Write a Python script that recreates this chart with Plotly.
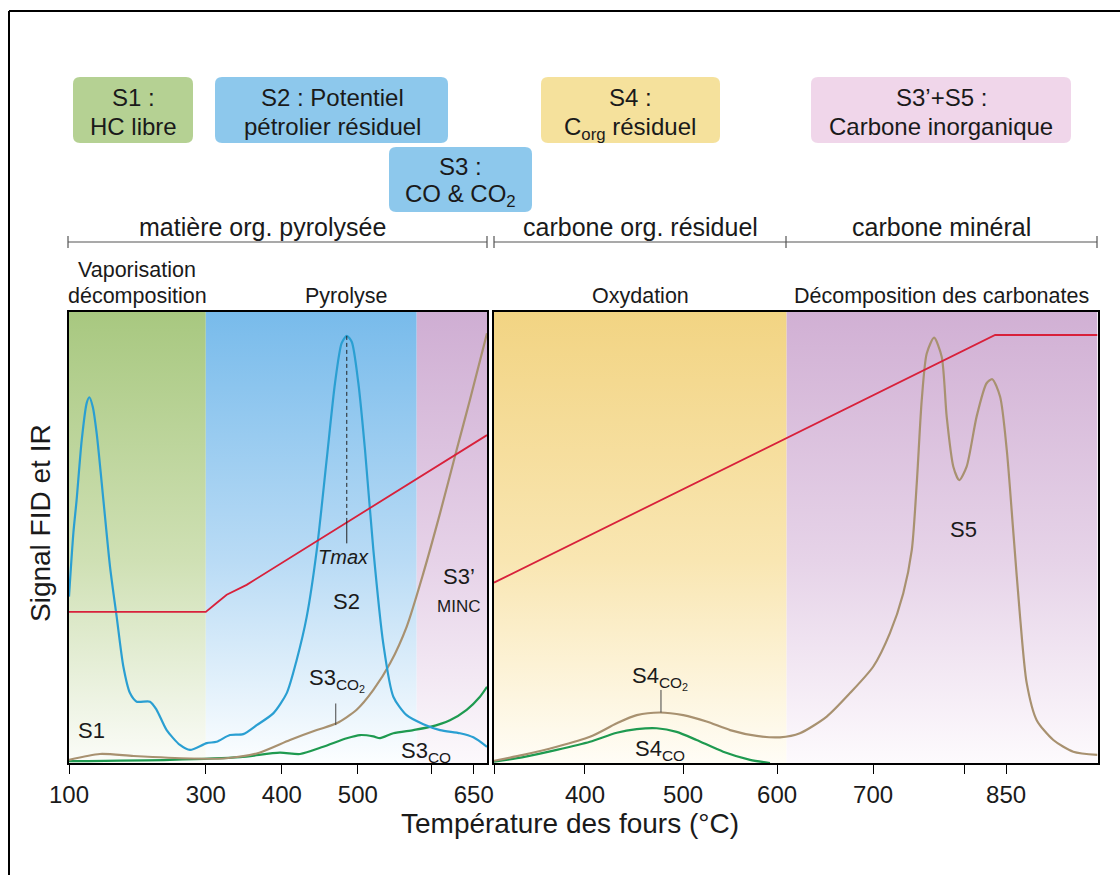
import plotly.graph_objects as go

W, H = 1120, 875

# ---------------- DATA ----------------
# x = furnace program time (min); tick labels are the furnace temperatures
left_tick_t = [0, 7.2, 11.2, 15.2, 21.3]
left_tick_lbl = ["100", "300", "400", "500", "650"]
left_minor_t = [19.1]
right_tick_t = [3.83, 7.96, 11.92, 15.96, 21.56]
right_tick_lbl = ["400", "500", "600", "700", "850"]
right_minor_t = [0, 19.79]

left_range = [0, 22.0]
right_range = [0, 25.41]

# Phase zones (start, end) in minutes
zone_vapo = [0, 7.2]
zone_pyro = [7.2, 18.3]
zone_minc = [18.3, 22.0]
zone_oxy = [0, 12.32]
zone_carb = [12.32, 25.41]

# Pyrolysis oven: FID hydrocarbons (S1, S2)
fid_t = [0.0, 0.23, 0.4, 0.67, 0.93, 1.07, 1.25, 1.46, 1.81, 2.16, 2.51, 2.86, 3.21, 3.56,
         4.26, 4.61, 5.14, 5.84, 6.37, 7.25, 7.77, 8.47, 9.17, 9.88, 10.75, 11.46, 11.98,
         12.51, 13.04, 13.56, 14.0, 14.35, 14.62, 14.88, 15.23, 15.58, 16.02, 16.54, 17.07,
         17.77, 18.65, 19.53, 20.58, 21.28, 22.0]
fid_y = [36.9, 51.0, 58.3, 71.6, 79.8, 81.1, 79.0, 73.0, 58.3, 43.5, 32.4, 21.4, 15.5, 13.6,
         13.6, 11.8, 7.3, 4.0, 2.9, 4.4, 4.7, 6.2, 6.4, 8.4, 11.0, 15.5, 22.8,
         32.4, 47.2, 67.2, 84.2, 93.1, 94.7, 93.4, 84.2, 69.4, 47.2, 26.5, 14.7,
         10.6, 8.6, 7.3, 6.6, 5.7, 3.6]

# Pyrolysis oven: CO2 (S3 CO2, S3')
pco2_t = [0.0, 1.63, 3.4, 6.37, 8.12, 9.88, 11.63, 13.04, 14.09, 15.14, 16.02, 16.9, 17.77,
          18.65, 19.53, 20.4, 21.1, 22.0]
pco2_y = [0.7, 2.0, 1.55, 1.0, 1.0, 2.1, 5.1, 7.3, 8.8, 11.8, 16.2, 22.1, 30.2,
          42.1, 55.4, 69.4, 80.5, 95.3]

# Pyrolysis oven: CO (S3 CO)
pco_t = [0.0, 5.32, 9.0, 11.1, 12.16, 13.38, 14.62, 15.32, 16.02, 16.37, 17.07, 18.12, 19.0,
         20.05, 20.93, 21.63, 22.0]
pco_y = [0.4, 0.7, 1.3, 2.3, 2.0, 3.6, 5.5, 6.2, 5.9, 5.5, 6.6, 7.3, 8.0,
         9.5, 11.8, 14.7, 16.9]

# Pyrolysis oven temperature
ptemp_t = [0.0, 7.2, 7.8, 8.3, 9.35, 22.0]
ptemp_y = [33.5, 33.5, 35.6, 37.3, 39.5, 72.7]

# Oxidation oven: CO2 (S4 CO2, S5)
oco2_t = [0.0, 1.23, 2.64, 4.04, 5.17, 6.01, 6.99, 7.97, 8.95, 9.94, 11.06, 12.04, 12.88,
          14.01, 14.99, 15.97, 16.67, 17.23, 17.59, 17.8, 18.01, 18.22, 18.53, 18.85, 19.06,
          19.34, 19.59, 19.9, 20.32, 20.74, 20.98, 21.31, 21.59, 21.87, 22.15, 22.43, 22.85,
          23.55, 24.39, 25.41]
oco2_y = [0.5, 1.8, 3.6, 5.8, 8.8, 10.6, 11.2, 10.6, 9.2, 7.3, 6.0, 5.7, 6.6,
          10.3, 15.5, 21.4, 28.8, 37.6, 47.2, 62.0, 80.5, 90.8, 94.3, 90.1, 76.8,
          65.7, 62.7, 65.7, 76.8, 84.2, 85.1, 81.2, 69.4, 50.9, 32.4, 17.7, 9.5,
          5.1, 2.5, 1.8]

# Oxidation oven: CO (S4 CO)
oco_t = [0.0, 1.23, 2.64, 4.04, 5.17, 6.01, 6.85, 7.69, 8.53, 9.65, 10.78, 11.62]
oco_y = [0.3, 1.3, 2.9, 4.7, 6.7, 7.5, 7.7, 6.9, 5.1, 2.5, 0.7, 0.0]

# Oxidation oven temperature
otemp_t = [0.0, 21.1, 25.41]
otemp_y = [40.0, 94.9, 94.9]

# Tmax and peak leaders
tmax_t = 14.62
tmax_y = [94.7, 53.9, 48.7]
s3co2_lead_t = 14.04
s3co2_lead_y = [8.4, 13.2]
s4co2_lead_t = 7.03
s4co2_lead_y = [11.2, 16.2]

# ---------------- STYLE ----------------
FONT = "Liberation Sans, Arial, sans-serif"
TXT = "#1a1a1a"
C_BLUE = "#2a9fd2"
C_RED = "#d8213b"
C_TAN = "#a89170"
C_GREEN = "#1e9a50"

fig = go.Figure()


def zone(xr, top, mid, bottom, xa, ya):
    fig.add_trace(go.Scatter(
        x=[xr[0], xr[1], xr[1], xr[0], xr[0]], y=[0, 0, 100, 100, 0],
        mode="lines", line=dict(width=0), fill="toself",
        fillgradient=dict(type="vertical",
                          colorscale=[[0, bottom], [0.45, mid], [1, top]]),
        hoverinfo="skip", showlegend=False, xaxis=xa, yaxis=ya))


zone(zone_vapo, "#a8c880", "#cfe0b4", "#fbfcf8", "x", "y")
zone(zone_pyro, "#78bbeb", "#b9dbf5", "#fcfeff", "x", "y")
zone(zone_minc, "#cfaed3", "#e6d2e8", "#fcf9fc", "x", "y")
zone(zone_oxy, "#f2d483", "#f9e6b2", "#fffdf6", "x2", "y2")
zone(zone_carb, "#d1b0d4", "#e6d3e8", "#fdfafd", "x2", "y2")


def curve(t, y, color, xa, ya, shape="spline", width=2.2, dash=None):
    fig.add_trace(go.Scatter(
        x=t, y=y, mode="lines",
        line=dict(color=color, width=width, shape=shape,
                  smoothing=0.7 if shape == "spline" else None, dash=dash),
        hoverinfo="skip", showlegend=False, xaxis=xa, yaxis=ya))


curve(pco_t, pco_y, C_GREEN, "x", "y")
curve(pco2_t, pco2_y, C_TAN, "x", "y")
curve(fid_t, fid_y, C_BLUE, "x", "y")
curve(ptemp_t, ptemp_y, C_RED, "x", "y", shape="linear", width=1.8)
curve(oco_t, oco_y, C_GREEN, "x2", "y2")
curve(oco2_t, oco2_y, C_TAN, "x2", "y2")
curve(otemp_t, otemp_y, C_RED, "x2", "y2", shape="linear", width=1.8)

# Tmax line (dashed then solid) and leaders
curve([tmax_t, tmax_t], tmax_y[:2], "#222222", "x", "y", shape="linear", width=1, dash="4px,3px")
curve([tmax_t, tmax_t], tmax_y[1:], "#222222", "x", "y", shape="linear", width=1)
curve([s3co2_lead_t] * 2, s3co2_lead_y, "#444444", "x", "y", shape="linear", width=1)
curve([s4co2_lead_t] * 2, s4co2_lead_y, "#444444", "x2", "y2", shape="linear", width=1)

# ---------------- AXES ----------------
yd = [1 - 763 / H, 1 - 312 / H]
axis_common = dict(showline=True, linecolor="black", linewidth=1.6, mirror=True,
                   ticks="outside", ticklen=9, tickcolor="black", tickwidth=1.2,
                   showgrid=False, zeroline=False, automargin=False,
                   tickfont=dict(family=FONT, size=24, color=TXT))
minor_common = dict(ticks="outside", ticklen=9, tickcolor="black", tickwidth=1.2,
                    showgrid=False, tickmode="array")
fig.update_layout(
    xaxis=dict(domain=[69 / W, 487 / W], range=left_range, tickmode="array",
               tickvals=left_tick_t, ticktext=left_tick_lbl, anchor="y",
               minor=dict(tickvals=left_minor_t, **minor_common), **axis_common),
    xaxis2=dict(domain=[494 / W, 1097.5 / W], range=right_range, tickmode="array",
                tickvals=right_tick_t, ticktext=right_tick_lbl, anchor="y2",
                minor=dict(tickvals=right_minor_t, **minor_common), **axis_common),
    yaxis=dict(domain=yd, range=[0, 100], showline=True, linecolor="black", linewidth=1.6,
               mirror=True, showticklabels=False, ticks="", showgrid=False, zeroline=False,
               automargin=False, anchor="x"),
    yaxis2=dict(domain=yd, range=[0, 100], showline=True, linecolor="black", linewidth=1.6,
                mirror=True, showticklabels=False, ticks="", showgrid=False, zeroline=False,
                automargin=False, anchor="x2"),
)

# ---------------- ANNOTATIONS ----------------
ann = []


def ptext(px, py, text, size=20, italic=False, angle=0):
    ann.append(dict(x=px / W, y=1 - py / H, xref="paper", yref="paper", text=text,
                    showarrow=False, xanchor="center", yanchor="middle", textangle=angle,
                    font=dict(family=FONT, size=size, color=TXT,
                              style="italic" if italic else "normal")))


def dtext(t, y, text, xa="x", ya="y", size=22, italic=False):
    ann.append(dict(x=t, y=y, xref=xa, yref=ya, text=text, showarrow=False,
                    xanchor="center", yanchor="middle",
                    font=dict(family=FONT, size=size, color=TXT,
                              style="italic" if italic else "normal")))


shapes = []


def rbox(x0, y0, x1, y1, color, r=7):
    X = lambda p: p / W
    Y = lambda p: 1 - p / H
    path = (f"M {X(x0 + r)},{Y(y0)} L {X(x1 - r)},{Y(y0)} Q {X(x1)},{Y(y0)} {X(x1)},{Y(y0 + r)} "
            f"L {X(x1)},{Y(y1 - r)} Q {X(x1)},{Y(y1)} {X(x1 - r)},{Y(y1)} "
            f"L {X(x0 + r)},{Y(y1)} Q {X(x0)},{Y(y1)} {X(x0)},{Y(y1 - r)} "
            f"L {X(x0)},{Y(y0 + r)} Q {X(x0)},{Y(y0)} {X(x0 + r)},{Y(y0)} Z")
    shapes.append(dict(type="path", path=path, xref="paper", yref="paper",
                       fillcolor=color, line=dict(width=0), layer="below"))


rbox(73, 77, 193, 143, "#b5d193")
rbox(215, 77, 448, 143, "#8dc8ec")
rbox(389, 147, 532, 212, "#8dc8ec")
rbox(541, 77, 720, 143, "#f5e19c")
rbox(811, 77, 1071, 143, "#f0d6ea")

BOX = 24
ptext(133, 97, "S1 :", BOX)
ptext(133, 127, "HC libre", BOX)
ptext(332, 97, "S2 : Potentiel", BOX)
ptext(332, 127, "pétrolier résiduel", BOX)
ptext(460, 166, "S3 :", BOX)
ptext(460, 196, "CO &amp; CO<sub>2</sub>", BOX)
ptext(630, 97, "S4 :", BOX)
ptext(630, 128, "C<sub>org</sub> résiduel", BOX)
ptext(941, 97, "S3’+S5 :", BOX)
ptext(941, 127, "Carbone inorganique", BOX)

ptext(262, 227, "matière org. pyrolysée", 25)
ptext(640, 227, "carbone org. résiduel", 25)
ptext(941, 227, "carbone minéral", 25)

ptext(137, 270, "Vaporisation", 21.5)
ptext(137, 296, "décomposition", 21.5)
ptext(346, 296, "Pyrolyse", 21.5)
ptext(640, 296, "Oxydation", 21.5)
ptext(941, 296, "Décomposition des carbonates", 21.5)

ptext(40, 523, "Signal FID et IR", 28, angle=-90)
ptext(570, 823, "Température des fours (°C)", 28)

# in-plot labels
dtext(1.19, 7.3, "S1")
dtext(14.6, 35.8, "S2")
dtext(14.44, 45.7, "Tmax", size=20, italic=True)
dtext(20.5, 41.3, "S3’")
dtext(20.5, 34.7, "MINC", size=17)
dtext(14.09, 18.3, "S3<sub>CO<sub>2</sub></sub>")
dtext(18.8, 2.4, "S3<sub>CO</sub>")
dtext(6.99, 18.8, "S4<sub>CO<sub>2</sub></sub>", "x2", "y2")
dtext(6.99, 2.8, "S4<sub>CO</sub>", "x2", "y2")
dtext(19.76, 51.7, "S5", "x2", "y2")

# brackets
BR = "#555555"
by = 242
for a, b in [(68, 487), (494, 786), (786, 1097)]:
    shapes.append(dict(type="line", xref="paper", yref="paper", x0=a / W, x1=b / W,
                       y0=1 - by / H, y1=1 - by / H, line=dict(color=BR, width=1.2)))
for a in [68, 487, 494, 786, 1097]:
    shapes.append(dict(type="line", xref="paper", yref="paper", x0=a / W, x1=a / W,
                       y0=1 - (by - 6) / H, y1=1 - (by + 6) / H, line=dict(color=BR, width=1.2)))

# outer frame (top and left)
shapes.append(dict(type="line", xref="paper", yref="paper", x0=9 / W, x1=1, y0=1 - 11 / H,
                   y1=1 - 11 / H, line=dict(color="black", width=2)))
shapes.append(dict(type="line", xref="paper", yref="paper", x0=9 / W, x1=9 / W, y0=1 - 11 / H,
                   y1=0, line=dict(color="black", width=2)))

fig.update_layout(
    width=W, height=H, margin=dict(l=0, r=0, t=0, b=0, pad=0), autosize=False,
    paper_bgcolor="white", plot_bgcolor="white",
    annotations=ann, shapes=shapes, showlegend=False,
    font=dict(family=FONT, color=TXT),
)

fig.write_html("out.html")
